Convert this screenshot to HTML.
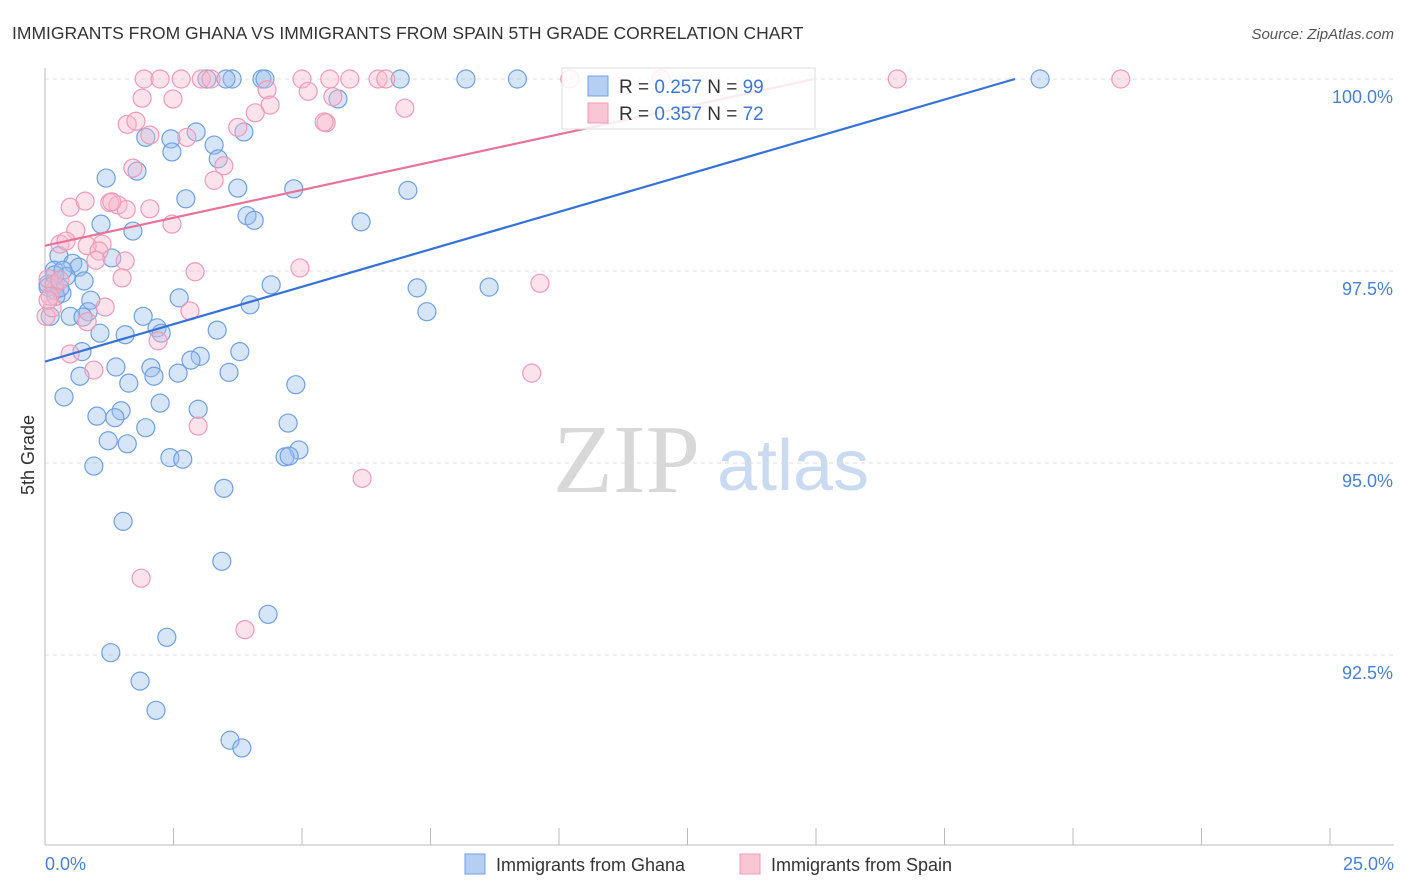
<!DOCTYPE html>
<html><head><meta charset="utf-8"><style>
body{margin:0;background:#fff;font-family:"Liberation Sans",sans-serif}
svg{display:block}
</style></head><body>
<svg id="chart" width="1406" height="892" xmlns="http://www.w3.org/2000/svg">
<text x="12" y="39" font-size="17.5" fill="#333">IMMIGRANTS FROM GHANA VS IMMIGRANTS FROM SPAIN 5TH GRADE CORRELATION CHART</text>
<text x="1394" y="39" font-size="15" font-style="italic" fill="#555" text-anchor="end">Source: ZipAtlas.com</text>
<g>
<text x="553" y="492" font-size="98" font-family="Liberation Serif,serif" fill="#d8d8d8">ZIP</text>
<text x="717" y="490" font-size="72" fill="#c9daf1">atlas</text>
</g>
<g id="grid"></g>
<g id="axes"></g>
<g id="pts"></g>
<g id="lines"></g>
<text transform="translate(34,455) rotate(-90)" font-size="18" fill="#333" text-anchor="middle">5th Grade</text>
<text x="45" y="870" font-size="18" fill="#4a7fd4">0.0%</text>
<text x="1394" y="870" font-size="18" fill="#4a7fd4" text-anchor="end">25.0%</text>
<g>
<rect x="562" y="68" width="253" height="61" fill="#fff" fill-opacity="0.85" stroke="#ddd"/>
<rect x="588" y="76" width="20" height="20" fill="#b5cff3" stroke="#6fa0e0"/>
<text x="619" y="93" font-size="19" fill="#333">R = <tspan fill="#3f76d0">0.257</tspan>   N = <tspan fill="#3f76d0">99</tspan></text>
<rect x="588" y="103" width="20" height="20" fill="#f9c6d6" stroke="#f09ab6"/>
<text x="619" y="120" font-size="19" fill="#333">R = <tspan fill="#3f76d0">0.357</tspan>   N = <tspan fill="#3f76d0">72</tspan></text>
</g>
<g>
<rect x="465" y="854" width="20" height="20" fill="#b5cff3" stroke="#6fa0e0"/>
<text x="496" y="871" font-size="18" fill="#333">Immigrants from Ghana</text>
<rect x="740" y="854" width="20" height="20" fill="#f9c6d6" stroke="#f09ab6"/>
<text x="771" y="871" font-size="18" fill="#333">Immigrants from Spain</text>
</g>
</svg>
<script>
const yTicks=[100,97.5,95,92.5];
const yTickLabels=["100.0%","97.5%","95.0%","92.5%"];
const xTicks=[0,2.5,5,7.5,10,12.5,15,17.5,20,22.5,25];
const ghanaX=[3.15,3.64,3.52,4.22,4.28,6.91,8.19,9.19,19.36,5.70,2.94,3.87,2.45,3.29,1.96,2.47,3.37,1.79,1.19,3.75,4.84,7.06,2.74,3.93,4.07,6.15,1.09,1.71,0.27,1.30,0.54,0.66,0.18,0.41,0.76,0.06,0.19,0.33,4.40,7.24,8.64,0.89,2.61,3.99,7.43,0.49,0.84,1.91,0.74,1.56,2.18,2.26,1.07,3.35,0.72,3.79,3.02,2.84,1.38,2.06,2.12,2.59,0.68,3.58,1.63,4.88,0.37,2.24,2.98,1.48,1.01,1.36,4.73,1.96,1.23,1.60,4.94,4.67,4.75,2.43,2.68,0.95,3.48,1.52,3.44,2.37,4.34,1.28,1.85,2.16,3.60,3.83,0.06,0.10,0.21,0.29,0.19,0.35];
const ghanaY=[100,100,100,100,100,100,100,100,100,99.74,99.31,99.31,99.22,99.14,99.24,99.05,98.96,98.80,98.71,98.58,98.57,98.55,98.44,98.22,98.16,98.14,98.11,98.02,97.70,97.67,97.60,97.55,97.51,97.43,97.37,97.33,97.25,97.21,97.32,97.28,97.29,97.12,97.15,97.06,96.97,96.91,96.97,96.91,96.90,96.67,96.76,96.69,96.69,96.73,96.45,96.45,96.39,96.34,96.25,96.24,96.13,96.17,96.13,96.18,96.04,96.02,95.86,95.78,95.70,95.68,95.61,95.59,95.52,95.46,95.29,95.25,95.17,95.08,95.09,95.07,95.05,94.96,94.67,94.24,93.72,92.73,93.03,92.53,92.16,91.78,91.39,91.29,97.29,96.91,97.17,97.28,97.45,97.51];
const spainX=[1.93,2.24,2.65,3.04,3.23,5.00,5.54,5.93,6.48,6.63,10.21,11.98,16.58,20.93,4.32,5.12,1.89,2.49,5.60,7.00,4.38,4.09,5.47,5.43,1.60,1.77,3.75,2.04,2.76,3.48,1.71,3.29,0.49,0.78,1.26,1.42,1.58,2.04,1.30,2.47,0.60,0.29,0.41,1.11,0.82,1.05,0.99,1.56,2.92,4.96,1.50,9.63,0.06,0.18,0.29,1.17,2.82,0.82,0.02,0.14,0.49,2.20,0.95,9.47,2.98,6.17,1.87,3.89,0.10,0.06];
const spainY=[100,100,100,100,100,100,100,100,100,100,100,100,100,100,99.86,99.84,99.75,99.74,99.77,99.62,99.66,99.56,99.43,99.44,99.41,99.45,99.37,99.27,99.24,98.87,98.84,98.68,98.33,98.41,98.39,98.36,98.30,98.31,98.40,98.11,98.03,97.85,97.89,97.85,97.83,97.76,97.64,97.63,97.49,97.54,97.41,97.34,97.40,97.32,97.38,97.03,96.98,96.84,96.91,97.02,96.42,96.59,96.21,96.17,95.48,94.80,93.50,92.83,97.17,97.12];
const trendIntercept=[96.32,97.83];
const trendSlope=[0.195,0.145];
const NS="http://www.w3.org/2000/svg";
const X=v=>45+v*51.4, Y=v=>79+(100-v)*76.8;
function mk(tag,attrs,parent){const e=document.createElementNS(NS,tag);for(const k in attrs)e.setAttribute(k,attrs[k]);parent.appendChild(e);return e;}
const grid=document.getElementById('grid'),axes=document.getElementById('axes'),pts=document.getElementById('pts'),lines=document.getElementById('lines');
yTicks.forEach((t,i)=>{
 const l=mk('line',{x1:45,x2:1394,y1:Y(t),y2:Y(t),stroke:'#ddd','stroke-dasharray':'4,4'},grid);
 
 
 const tx=mk('text',{x:1393,y:Y(t)+24,'font-size':18,fill:'#4a7fd4','text-anchor':'end'},grid);
 tx.textContent=yTickLabels[i];
 
 
});
const ya=mk('line',{x1:45,x2:45,y1:68,y2:845,stroke:'#bbb'},axes);


const xa=mk('line',{x1:45,x2:1394,y1:845,y2:845,stroke:'#bbb'},axes);


xTicks.forEach(t=>{
 const l=mk('line',{x1:X(t),x2:X(t),y1:828,y2:845,stroke:'#bbb'},axes);
 
 
});
ghanaX.forEach((v,i)=>{
 const c=mk('circle',{cx:X(v),cy:Y(ghanaY[i]),r:9,fill:'#9bbfee','fill-opacity':0.4,stroke:'#6fa0e0','stroke-width':1.2},pts);
 
 
});
spainX.forEach((v,i)=>{
 const c=mk('circle',{cx:X(v),cy:Y(spainY[i]),r:9,fill:'#f7b8cc','fill-opacity':0.4,stroke:'#f09ab6','stroke-width':1.2},pts);
 
 
});
const lc=['#3572d6','#e8729a'];const ln=['ghana-trendline','spain-trendline'];
trendIntercept.forEach((b,i)=>{
 const xe=(100-b)/trendSlope[i];
 const l=mk('line',{x1:X(0),y1:Y(b),x2:X(xe),y2:Y(100),stroke:lc[i],'stroke-width':2.2},lines);
 
 
});
</script>
</body></html>
